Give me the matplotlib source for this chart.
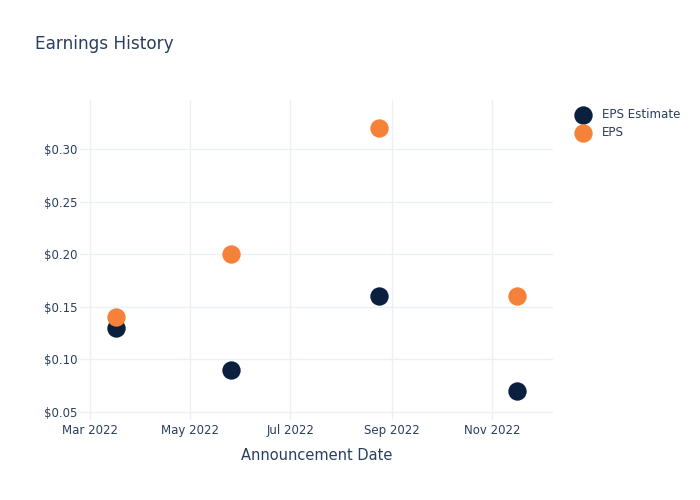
import matplotlib
matplotlib.use('Agg')
import matplotlib.pyplot as plt
import matplotlib.dates as mdates
import datetime as dt

# Data
dates = ['2022-03-17', '2022-05-26', '2022-08-24', '2022-11-16']
eps_estimate = [0.13, 0.09, 0.16, 0.07]
eps_actual = [0.14, 0.20, 0.32, 0.16]
x_ticks = ['2022-03-01', '2022-05-01', '2022-07-01', '2022-09-01', '2022-11-01']
y_ticks = [0.05, 0.10, 0.15, 0.20, 0.25, 0.30]

text_col = '#2a3f5f'
grid_col = '#ebf0f8'

to_dt = lambda s: dt.datetime.strptime(s, '%Y-%m-%d')
x = [to_dt(d) for d in dates]

fig = plt.figure(figsize=(7, 5), dpi=100)
# plot area 80..553 px wide, 100..420 px tall (plotly default margins)
ax = fig.add_axes([80 / 700, 80 / 500, 473 / 700, 320 / 500])

ax.scatter(x, eps_estimate, s=175, color='#0b1f3f', label='EPS Estimate',
           zorder=3, linewidths=0)
ax.scatter(x, eps_actual, s=175, color='#f6823a', label='EPS',
           zorder=4, linewidths=0)

ax.set_xlim(to_dt('2022-02-23'), to_dt('2022-12-08'))
ax.set_ylim(0.0424, 0.3466)
ax.set_xticks([to_dt(t) for t in x_ticks])
ax.xaxis.set_major_formatter(mdates.DateFormatter('%b %Y'))
ax.set_yticks(y_ticks)
ax.set_yticklabels(['$%.2f' % v for v in y_ticks])

ax.grid(True, color=grid_col, linewidth=1)
ax.set_axisbelow(True)
for sp in ax.spines.values():
    sp.set_visible(False)
ax.tick_params(axis='both', length=0, labelsize=8.5, colors=text_col)
ax.tick_params(axis='x', pad=3)
ax.tick_params(axis='y', pad=2)

ax.set_xlabel('Announcement Date', fontsize=10.5, color=text_col, labelpad=8)
fig.text(0.05, 0.912, 'Earnings History', fontsize=12.2, color=text_col,
         va='center', ha='left')

leg = ax.legend(loc='upper left', bbox_to_anchor=(1.028, 0.99), frameon=False,
                fontsize=8.6, handletextpad=0.6, labelspacing=0.45,
                borderaxespad=0.0, markerscale=1.0)
for t in leg.get_texts():
    t.set_color(text_col)

fig.savefig('out.png', dpi=100)
